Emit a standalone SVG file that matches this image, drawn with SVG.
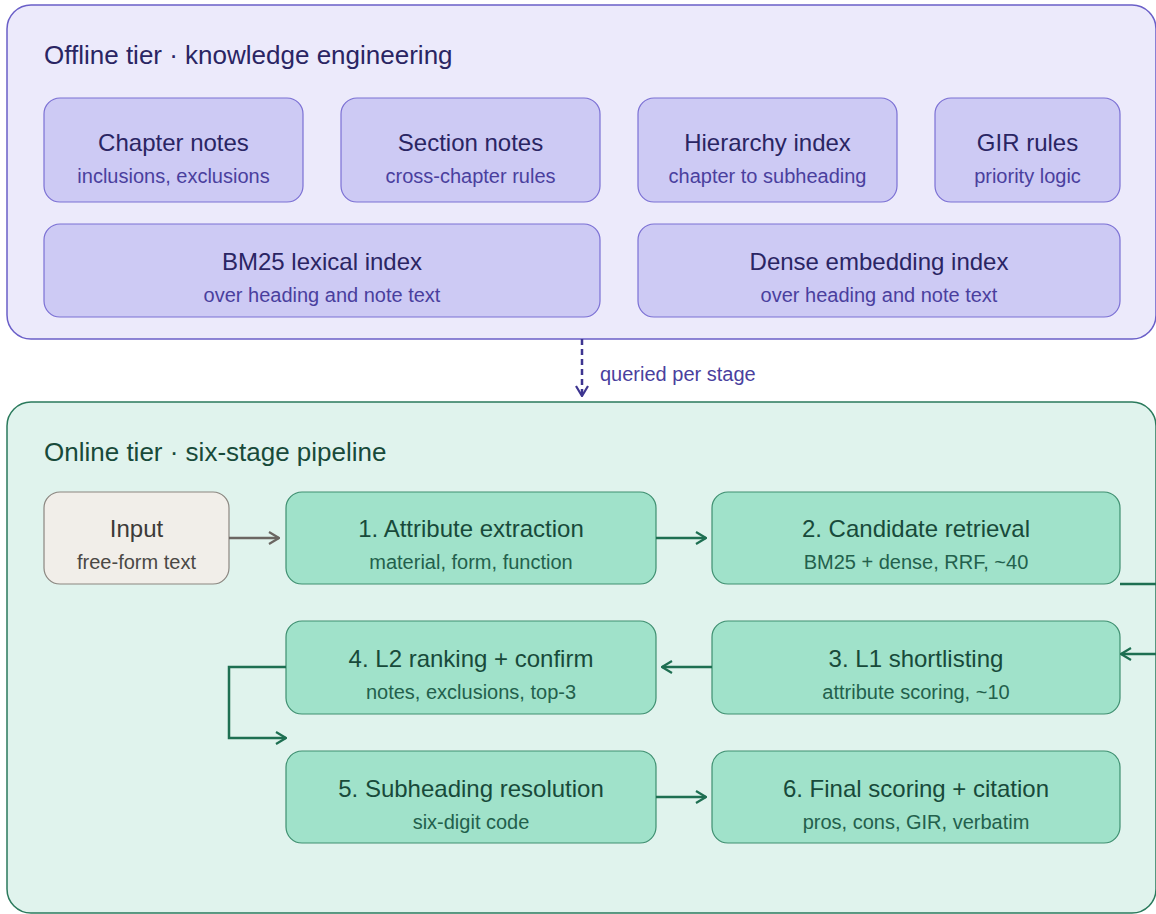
<svg xmlns="http://www.w3.org/2000/svg" width="1156" height="914" viewBox="0 0 1156 914">
  <style>
    text { font-family: "Liberation Sans", Arial, Helvetica, sans-serif; text-anchor: middle; }
    .ptitle { font-size: 26px; text-anchor: start; }
    .t { font-size: 24px; }
    .s { font-size: 20px; }
    .off-panel { fill: #eceafb; stroke: #6a5fc8; stroke-width: 1.5; }
    .on-panel { fill: #e0f3ed; stroke: #2a7a5c; stroke-width: 1.5; }
    .off-box { fill: #cdcaf4; stroke: #7b70d4; stroke-width: 1.2; }
    .off-t { fill: #2a2563; }
    .off-s { fill: #4a3f9e; }
    .grn-box { fill: #a0e2ca; stroke: #3e8f70; stroke-width: 1.2; }
    .grn-t { fill: #184a3a; }
    .grn-s { fill: #23604c; }
    .in-box { fill: #f1eee9; stroke: #8b8680; stroke-width: 1.2; }
    .in-t { fill: #3c3a38; }
    .in-s { fill: #4a4845; }
    .c-grn { fill: none; stroke: #1e6f52; stroke-width: 2.5; }
    .c-gray { fill: none; stroke: #6b6662; stroke-width: 2.5; }
    .c-dash { fill: none; stroke: #3d3590; stroke-width: 2.5; stroke-dasharray: 6 4; }
  </style>
  <defs>
    <marker id="ah-grn" viewBox="0 0 12 14" refX="11" refY="7" markerWidth="12" markerHeight="14" markerUnits="userSpaceOnUse" orient="auto">
      <path d="M1,1 L11,7 L1,13" fill="none" stroke="#1e6f52" stroke-width="2.2"/>
    </marker>
    <marker id="ah-gray" viewBox="0 0 12 14" refX="11" refY="7" markerWidth="12" markerHeight="14" markerUnits="userSpaceOnUse" orient="auto">
      <path d="M1,1 L11,7 L1,13" fill="none" stroke="#6b6662" stroke-width="2.2"/>
    </marker>
    <marker id="ah-dash" viewBox="0 0 12 14" refX="11" refY="7" markerWidth="12" markerHeight="14" markerUnits="userSpaceOnUse" orient="auto">
      <path d="M1,1 L11,7 L1,13" fill="none" stroke="#3d3590" stroke-width="2.2"/>
    </marker>
  </defs>

  <g id="offline-tier">
    <rect class="off-panel" x="7" y="5" width="1149" height="334" rx="24"/>
    <text class="ptitle off-t" x="44" y="64">Offline tier · knowledge engineering</text>
  </g>
  <g id="chapter-notes">
    <rect class="off-box" x="44" y="98" width="259" height="104" rx="16"/>
    <text class="t off-t" x="173.5" y="151">Chapter notes</text>
    <text class="s off-s" x="173.5" y="183">inclusions, exclusions</text>
  </g>
  <g id="section-notes">
    <rect class="off-box" x="341" y="98" width="259" height="104" rx="16"/>
    <text class="t off-t" x="470.5" y="151">Section notes</text>
    <text class="s off-s" x="470.5" y="183">cross-chapter rules</text>
  </g>
  <g id="hierarchy-index">
    <rect class="off-box" x="638" y="98" width="259" height="104" rx="16"/>
    <text class="t off-t" x="767.5" y="151">Hierarchy index</text>
    <text class="s off-s" x="767.5" y="183">chapter to subheading</text>
  </g>
  <g id="gir-rules">
    <rect class="off-box" x="935" y="98" width="185" height="104" rx="16"/>
    <text class="t off-t" x="1027.5" y="151">GIR rules</text>
    <text class="s off-s" x="1027.5" y="183">priority logic</text>
  </g>
  <g id="bm25-index">
    <rect class="off-box" x="44" y="224" width="556" height="93" rx="16"/>
    <text class="t off-t" x="322" y="270">BM25 lexical index</text>
    <text class="s off-s" x="322" y="302">over heading and note text</text>
  </g>
  <g id="dense-index">
    <rect class="off-box" x="638" y="224" width="482" height="93" rx="16"/>
    <text class="t off-t" x="879" y="270">Dense embedding index</text>
    <text class="s off-s" x="879" y="302">over heading and note text</text>
  </g>

  <g id="online-tier">
    <rect class="on-panel" x="7" y="402" width="1149" height="511" rx="24"/>
    <text class="ptitle grn-t" x="44" y="461">Online tier · six-stage pipeline</text>
  </g>
  <g id="input">
    <rect class="in-box" x="44" y="492" width="185" height="92" rx="16"/>
    <text class="t in-t" x="136.5" y="537">Input</text>
    <text class="s in-s" x="136.5" y="569">free-form text</text>
  </g>
  <g id="stage1">
    <rect class="grn-box" x="286" y="492" width="370" height="92" rx="16"/>
    <text class="t grn-t" x="471" y="537">1. Attribute extraction</text>
    <text class="s grn-s" x="471" y="569">material, form, function</text>
  </g>
  <g id="stage2">
    <rect class="grn-box" x="712" y="492" width="408" height="92" rx="16"/>
    <text class="t grn-t" x="916" y="537">2. Candidate retrieval</text>
    <text class="s grn-s" x="916" y="569">BM25 + dense, RRF, ~40</text>
  </g>
  <g id="stage3">
    <rect class="grn-box" x="712" y="621" width="408" height="93" rx="16"/>
    <text class="t grn-t" x="916" y="667">3. L1 shortlisting</text>
    <text class="s grn-s" x="916" y="699">attribute scoring, ~10</text>
  </g>
  <g id="stage4">
    <rect class="grn-box" x="286" y="621" width="370" height="93" rx="16"/>
    <text class="t grn-t" x="471" y="667">4. L2 ranking + confirm</text>
    <text class="s grn-s" x="471" y="699">notes, exclusions, top-3</text>
  </g>
  <g id="stage5">
    <rect class="grn-box" x="286" y="751" width="370" height="92" rx="16"/>
    <text class="t grn-t" x="471" y="797">5. Subheading resolution</text>
    <text class="s grn-s" x="471" y="829">six-digit code</text>
  </g>
  <g id="stage6">
    <rect class="grn-box" x="712" y="751" width="408" height="92" rx="16"/>
    <text class="t grn-t" x="916" y="797">6. Final scoring + citation</text>
    <text class="s grn-s" x="916" y="829">pros, cons, GIR, verbatim</text>
  </g>

  <g id="connectors">
    <path class="c-dash" d="M582,339 V396" marker-end="url(#ah-dash)"/>
    <text class="s off-s" x="600" y="381" style="text-anchor:start">queried per stage</text>
    <path class="c-gray" d="M229,538 H279" marker-end="url(#ah-gray)"/>
    <path class="c-grn" d="M656,538 H706" marker-end="url(#ah-grn)"/>
    <path class="c-grn" d="M1120,584 H1172 V654 H1121" marker-end="url(#ah-grn)"/>
    <path class="c-grn" d="M712,667 H662" marker-end="url(#ah-grn)"/>
    <path class="c-grn" d="M286,667 H229 V738 H286" marker-end="url(#ah-grn)"/>
    <path class="c-grn" d="M656,797 H706" marker-end="url(#ah-grn)"/>
  </g>
</svg>
